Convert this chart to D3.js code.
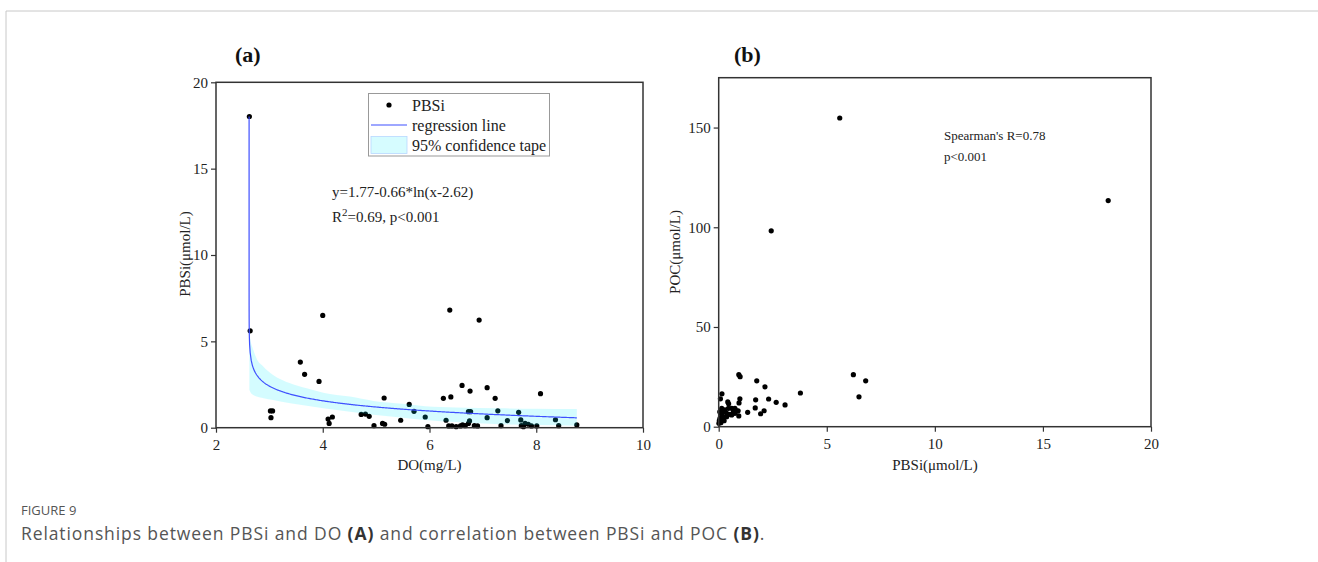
<!DOCTYPE html>
<html>
<head>
<meta charset="utf-8">
<script src="https://cdn.jsdelivr.net/npm/d3@7"></script>
<style>
  body { margin: 0; background: #fff; }
  svg { display: block; }
</style>
</head>
<body>
<div id="container"></div>
<script>
// panel (a): DO vs PBSi
let doVals = [2.625, 2.64, 3.58, 3.66, 3.93, 4.0, 6.38, 6.93,
  3.02, 3.06, 3.03, 4.1, 4.12, 4.18, 4.72, 4.80, 4.87, 4.96, 5.12, 5.16, 5.15, 5.46, 5.62, 5.71, 5.92, 5.97,
  6.26, 6.40, 6.31, 6.36, 6.42, 6.50, 6.58, 6.62, 6.67, 6.73, 6.75, 6.84, 6.90, 6.61, 6.76, 6.73, 6.77,
  7.08, 7.23, 7.08, 7.28, 7.34, 7.46, 7.67, 7.71, 7.72, 7.76, 7.79, 7.85, 7.91, 8.01, 8.08, 8.36, 8.42, 8.76];
let pbsiA = [18.02, 5.61, 3.80, 3.09, 2.68, 6.5, 6.81, 6.23,
  0.97, 0.97, 0.58, 0.5, 0.25, 0.62, 0.77, 0.79, 0.66, 0.12, 0.25, 0.2, 1.72, 0.43, 1.35, 0.95, 0.62, 0.06,
  1.70, 1.78, 0.43, 0.1, 0.1, 0.06, 0.1, 0.16, 0.12, 0.25, 0.39, 0.12, 0.1, 2.45, 2.12, 0.93, 0.93,
  2.32, 1.70, 0.58, 0.98, 0.12, 0.41, 0.89, 0.45, 0.12, 0.06, 0.25, 0.2, 0.1, 0.1, 1.97, 0.46, 0.12, 0.16];

// regression y = a - b*ln(x - c) as printed on the chart
let regA = 1.77, regB = 0.66, regC = 2.62;

// 95% band edges
let bandX = [2.625, 2.64, 2.70, 2.76, 2.89, 3.07, 3.39, 3.70, 4.01, 4.51, 4.95, 5.5, 5.92, 6.5, 7.33, 8.0, 8.76];
let bandUp = [5.5, 5.17, 4.5, 4.0, 3.53, 3.05, 2.57, 2.28, 2.03, 1.8, 1.55, 1.38, 1.24, 1.17, 1.12, 1.1, 1.08];
let bandLo = [2.2, 2.08, 1.89, 1.8, 1.7, 1.6, 1.41, 1.27, 1.12, 0.93, 0.75, 0.58, 0.45, 0.33, 0.2, 0.15, 0.12];

// panel (b): PBSi vs POC
let pbsiB = [5.6, 18.02, 2.43, 6.23, 6.8, 6.49, 3.78, 0.93, 0.99, 1.76, 2.14, 2.31, 2.66, 3.07, 1.71, 1.69, 1.34, 1.94, 2.10,
  0.15, 0.08, 0.98, 0.94, 0.42, 0.46, 0.93, 0.9,
  0.14, 0.21, 0.29, 0.45, 0.6, 0.68, 0.75, 0.83, 0.37, 0.52, 0.14, 0.06, 0.21, 0.37, 0.6, 0.06, 0.14, 0.01, 0.11, 0.75, 0.68,
  0.03, 0.05, 0.1, 0.2, 0.25];
let pocB = [154.8, 113.4, 98.2, 26.1, 23.0, 15.0, 16.9, 26.1, 25.1, 23.0, 20.0, 13.9, 12.2, 10.9, 13.5, 9.4, 7.2, 6.5, 8.0,
  16.5, 14.0, 14.0, 11.9, 12.4, 11.5, 5.4, 8.0,
  9.2, 7.5, 8.4, 9.2, 9.2, 8.4, 9.2, 7.9, 6.7, 6.2, 5.9, 4.2, 5.0, 5.0, 5.9, 2.5, 3.4, 1.7, 6.7, 6.7, 7.2,
  3.0, 7.5, 2.0, 4.0, 3.0];

let xTicksA = [2, 4, 6, 8, 10], xMinorA = [3, 5, 7, 9];
let yTicksA = [0, 5, 10, 15, 20], yMinorA = [2.5, 7.5, 12.5, 17.5];
let xTicksB = [0, 5, 10, 15, 20], xMinorB = [2.5, 7.5, 12.5, 17.5];
let yTicksB = [0, 50, 100, 150], yMinorB = [25, 75, 125];

let w = 1318, h = 562;
let serif = "'Liberation Serif', 'Times New Roman', serif";

let svg = d3.select("#container").append("svg")
  .attr("width", w).attr("height", h);

// page frame
svg.append("path").attr("d", "M6," + h + "V11H" + w)
  .attr("fill", "none").attr("stroke", "#c8c8c8").attr("stroke-width", 1);

function drawAxes(g, xs, ys, xt, xm, yt, ym) {
  let bx = g.append("g").attr("transform", "translate(0," + ys.range()[0] + ")");
  bx.call(d3.axisBottom(xs).tickValues(xm).tickSize(3).tickFormat(""));
  bx.call(d3.axisBottom(xs).tickValues(xt).tickSize(5).tickPadding(7).tickSizeOuter(0));
  let ly = g.append("g").attr("transform", "translate(" + xs.range()[0] + ",0)");
  ly.call(d3.axisLeft(ys).tickValues(ym).tickSize(3).tickFormat(""));
  ly.call(d3.axisLeft(ys).tickValues(yt).tickSize(5).tickPadding(3).tickSizeOuter(0));
  g.selectAll(".domain").remove();
  g.selectAll(".tick line").attr("stroke", "#333").attr("stroke-width", 1.2);
  g.selectAll(".tick text").attr("font-family", serif).attr("font-size", 15).attr("fill", "#222");
  // box
  g.append("rect")
    .attr("x", xs.range()[0]).attr("y", ys.range()[1])
    .attr("width", xs.range()[1] - xs.range()[0])
    .attr("height", ys.range()[0] - ys.range()[1])
    .attr("fill", "none").attr("stroke", "#333").attr("stroke-width", 1.5);
}

// ---------- panel (a)
let xA = d3.scaleLinear().domain([2, 10]).range([216, 643]);
let yA = d3.scaleLinear().domain([0, 20]).range([427.7, 82.3]);
let gA = svg.append("g");

gA.selectAll(".ptA").data(doVals).enter().append("circle").classed("ptA", true)
  .attr("cx", d => xA(d))
  .attr("cy", (d, i) => yA(pbsiA[i]))
  .attr("r", 2.6).attr("fill", "#000");

let bandData = bandX.map((d, i) => ({x: d, lo: bandLo[i], up: bandUp[i]}));
gA.append("path").datum(bandData)
  .attr("d", d3.area().x(d => xA(d.x)).y0(d => yA(d.lo)).y1(d => yA(d.up)).curve(d3.curveMonotoneX))
  .attr("fill", "rgb(0,235,255)").attr("fill-opacity", 0.17);

let regPts = [];
for (let e = -11; e <= -2; e += 0.25) regPts.push(regC + Math.pow(10, e));
for (let xv = 2.64; xv <= 8.76; xv += 0.02) regPts.push(xv);
regPts.push(8.76);
let regLine = regPts.map(xv => ({x: xv, y: Math.min(18.02, regA - regB * Math.log(xv - regC))}));
gA.append("path").datum(regLine)
  .attr("d", d3.line().x(d => xA(d.x)).y(d => yA(d.y)))
  .attr("fill", "none").attr("stroke", "#3f50ff").attr("stroke-width", 1.2);

drawAxes(gA, xA, yA, xTicksA, xMinorA, yTicksA, yMinorA);

// legend
let lg = gA.append("g");
lg.append("rect").attr("x", 368.5).attr("y", 93.5).attr("width", 181).attr("height", 62.5)
  .attr("fill", "#fff").attr("stroke", "#999").attr("stroke-width", 1);
lg.append("circle").attr("cx", 389).attr("cy", 105).attr("r", 2.6).attr("fill", "#000");
lg.append("line").attr("x1", 371).attr("x2", 407).attr("y1", 125).attr("y2", 125)
  .attr("stroke", "#3f50ff").attr("stroke-width", 1.2);
lg.append("rect").attr("x", 371).attr("y", 136.5).attr("width", 36).attr("height", 17)
  .attr("fill", "#d6fcff").attr("stroke", "#b8d8ff").attr("stroke-width", 0.8);
let legendNames = ["PBSi", "regression line", "95% confidence tape"];
lg.selectAll(".lt").data(legendNames).enter().append("text").classed("lt", true)
  .attr("x", 412).attr("y", (d, i) => 110.5 + i * 20)
  .attr("font-family", serif).attr("font-size", 16).attr("fill", "#222")
  .text(d => d);

gA.append("text").attr("x", 332).attr("y", 197)
  .attr("font-family", serif).attr("font-size", 15).attr("fill", "#222")
  .text("y=1.77-0.66*ln(x-2.62)");
let r2 = gA.append("text").attr("x", 332).attr("y", 222)
  .attr("font-family", serif).attr("font-size", 15).attr("fill", "#222");
r2.append("tspan").text("R");
r2.append("tspan").attr("font-size", 11).attr("dy", -6).text("2");
r2.append("tspan").attr("dy", 6).text("=0.69, p<0.001");

gA.append("text").attr("x", 429.5).attr("y", 470).attr("text-anchor", "middle")
  .attr("font-family", serif).attr("font-size", 15).attr("fill", "#222").text("DO(mg/L)");
gA.append("text").attr("transform", "translate(190,254) rotate(-90)").attr("text-anchor", "middle")
  .attr("font-family", serif).attr("font-size", 15).attr("fill", "#222").text("PBSi(μmol/L)");
gA.append("text").attr("x", 235).attr("y", 62)
  .attr("font-family", serif).attr("font-size", 22).attr("font-weight", "bold").attr("fill", "#111").text("(a)");

// ---------- panel (b)
let xB = d3.scaleLinear().domain([0, 20]).range([718.7, 1151]);
let yB = d3.scaleLinear().domain([0, 175]).range([426.7, 77.7]);
let gB = svg.append("g");

gB.selectAll(".ptB").data(pbsiB).enter().append("circle").classed("ptB", true)
  .attr("cx", d => xB(d))
  .attr("cy", (d, i) => yB(pocB[i]))
  .attr("r", 2.6).attr("fill", "#000");

drawAxes(gB, xB, yB, xTicksB, xMinorB, yTicksB, yMinorB);

gB.append("text").attr("x", 944).attr("y", 140)
  .attr("font-family", serif).attr("font-size", 13).attr("fill", "#222").text("Spearman's R=0.78");
gB.append("text").attr("x", 944).attr("y", 161)
  .attr("font-family", serif).attr("font-size", 13).attr("fill", "#222").text("p<0.001");

gB.append("text").attr("x", 935).attr("y", 470).attr("text-anchor", "middle")
  .attr("font-family", serif).attr("font-size", 15).attr("fill", "#222").text("PBSi(μmol/L)");
gB.append("text").attr("transform", "translate(680,252) rotate(-90)").attr("text-anchor", "middle")
  .attr("font-family", serif).attr("font-size", 15).attr("fill", "#222").text("POC(μmol/L)");
gB.append("text").attr("x", 734).attr("y", 62)
  .attr("font-family", serif).attr("font-size", 22).attr("font-weight", "bold").attr("fill", "#111").text("(b)");

// ---------- caption
let sans = "'Open Sans', 'Noto Sans', sans-serif";
svg.append("text").attr("x", 21).attr("y", 515)
  .attr("font-family", sans).attr("font-size", 13).attr("fill", "#555").text("FIGURE 9");
let cap = svg.append("text").attr("x", 21).attr("y", 540)
  .attr("font-family", sans).attr("font-size", 17.5).attr("letter-spacing", 0.9).attr("fill", "#555");
cap.append("tspan").text("Relationships between PBSi and DO ");
cap.append("tspan").attr("font-weight", "bold").attr("fill", "#333").text("(A)");
cap.append("tspan").text(" and correlation between PBSi and POC ");
cap.append("tspan").attr("font-weight", "bold").attr("fill", "#333").text("(B)");
cap.append("tspan").text(".");
</script>
</body>
</html>
